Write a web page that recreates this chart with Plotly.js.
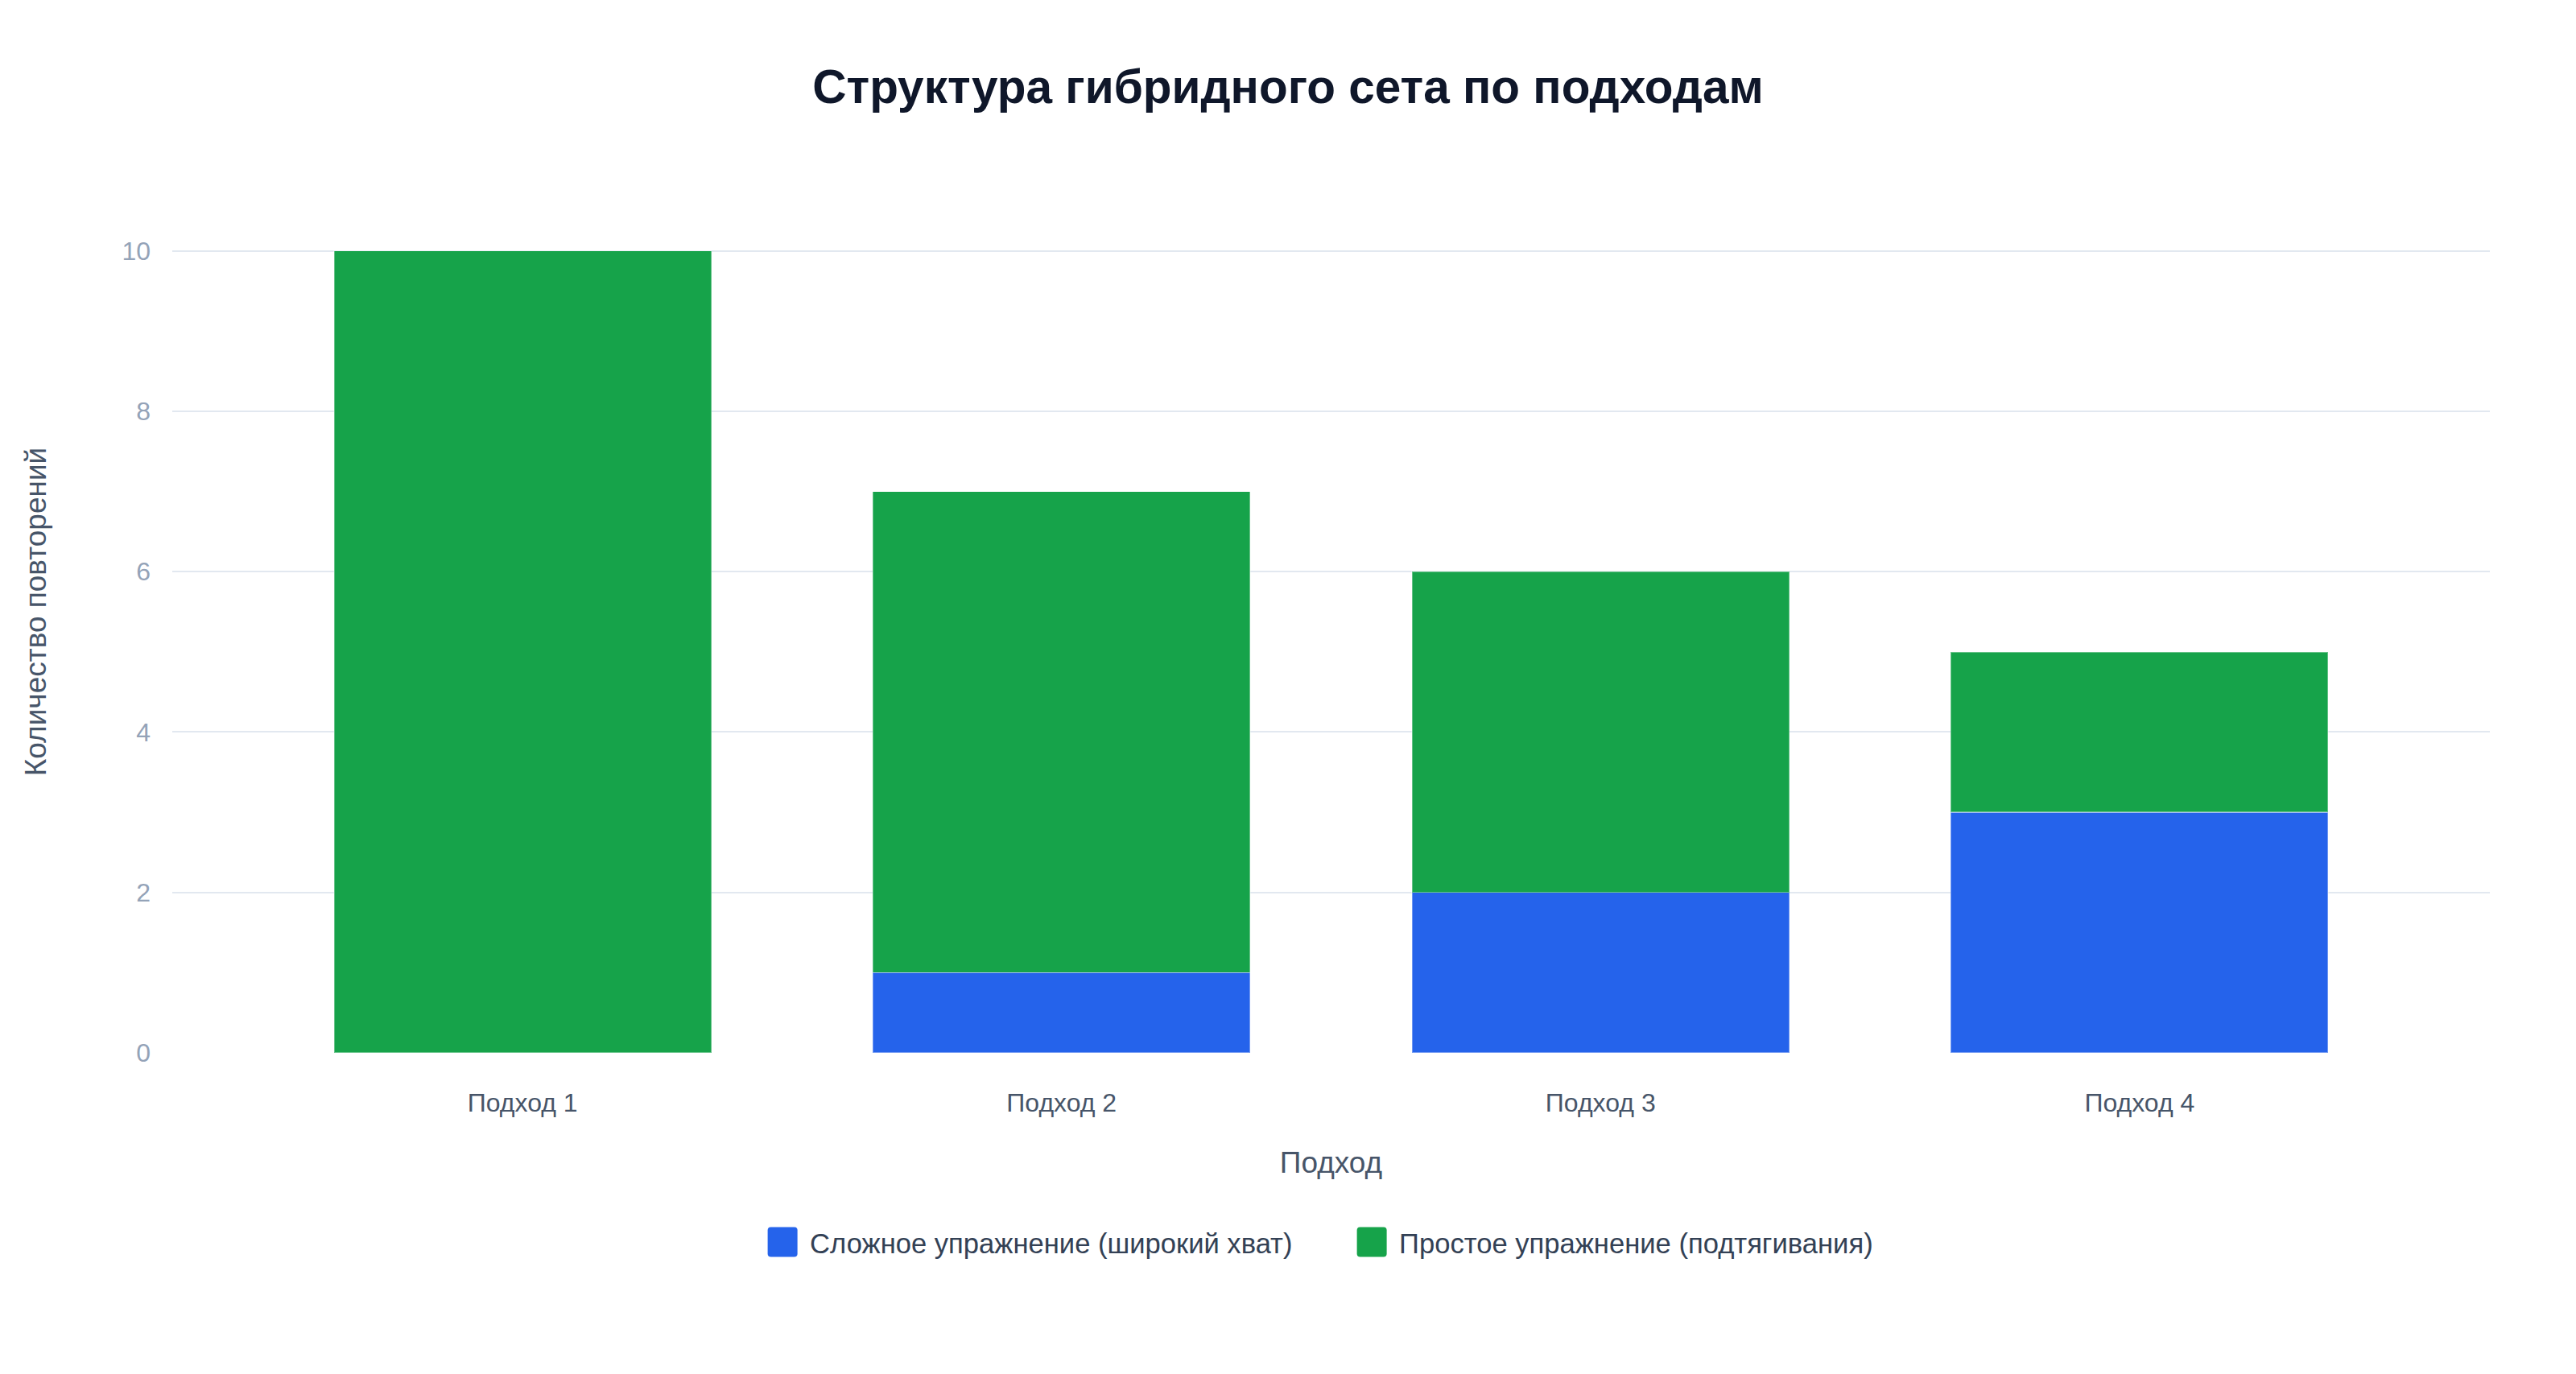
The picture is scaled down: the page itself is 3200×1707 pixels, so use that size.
<!DOCTYPE html>
<html>
<head>
<meta charset="utf-8">
<script src="https://cdn.plot.ly/plotly-3.0.1.min.js"></script>
<style>
  html, body { margin: 0; padding: 0; background: #ffffff; }
  #chart { width: 3200px; height: 1707px; }
</style>
</head>
<body>
<div id="chart"></div>
<script>
var sets = ['Подход 1', 'Подход 2', 'Подход 3', 'Подход 4'];
var hardReps = [0, 1, 2, 3];
var easyReps = [10, 6, 4, 2];
var yTicks = [0, 2, 4, 6, 8, 10];

var fontFamily = '"Liberation Sans", Arial, sans-serif';
var blue = '#2563eb';
var green = '#16a34a';

var trace1 = {
    x: sets,
    y: hardReps,
    name: 'Сложное упражнение (широкий хват)',
    type: 'bar',
    marker: {
        color: blue,
        line: { color: 'rgba(255,255,255,0.35)', width: 1.5 }
    }
};

var trace2 = {
    x: sets,
    y: easyReps,
    name: 'Простое упражнение (подтягивания)',
    type: 'bar',
    marker: {
        color: green,
        line: { color: 'rgba(255,255,255,0.35)', width: 1.5 }
    }
};

var data = [trace1, trace2];

var layout = {
    barmode: 'stack',
    bargap: 0.3,
    width: 3200,
    height: 1707,
    paper_bgcolor: '#ffffff',
    plot_bgcolor: '#ffffff',
    font: { family: fontFamily, color: '#334155', size: 32 },
    title: {
        text: '<b>Структура гибридного сета по подходам</b>',
        font: { family: fontFamily, size: 58.5, color: '#0f172a' },
        x: 0.5,
        xanchor: 'center',
        y: 0.937,
        yanchor: 'middle'
    },
    xaxis: {
        title: {
            text: 'Подход',
            font: { size: 37, color: '#475569' },
            standoff: 44
        },
        range: [-0.65, 3.65],
        tickfont: { size: 32, color: '#475569' },
        ticklabelstandoff: 40,
        showgrid: false,
        zeroline: false,
        showline: false,
        ticks: ''
    },
    yaxis: {
        title: {
            text: 'Количество повторений',
            font: { size: 37, color: '#475569' },
            standoff: 82
        },
        range: [0, 11],
        tickvals: yTicks,
        tickfont: { size: 32, color: '#94a3b8' },
        ticklabelstandoff: 26,
        gridcolor: '#e2e8f0',
        gridwidth: 2,
        zeroline: false,
        showline: false,
        ticks: ''
    },
    legend: {
        orientation: 'h',
        traceorder: 'normal',
        x: 0.5155,
        xanchor: 'center',
        y: -0.188,
        yanchor: 'top',
        font: { size: 34.6, color: '#334155' },
        entrywidth: 687,
        entrywidthmode: 'pixels'
    },
    margin: {
        l: 214,
        r: 107,
        t: 212,
        b: 399
    }
};

Plotly.newPlot('chart', data, layout, {
    displayModeBar: false
}).then(function(gd) {
    // bigger rounded legend swatches
    var swatch = 'M-8.5,-18.5H20.5A4,4 0 0 1 24.5,-14.5V14.5A4,4 0 0 1 20.5,18.5' +
        'H-8.5A4,4 0 0 1 -12.5,14.5V-14.5A4,4 0 0 1 -8.5,-18.5Z';
    var colors = [blue, green];
    // let the first swatch reach past the legend's left clip edge
    gd.querySelectorAll('.legend [clip-path]').forEach(function(el) {
        el.removeAttribute('clip-path');
    });
    var items = gd.querySelectorAll('.legend .traces');
    items.forEach(function(item, i) {
        item.querySelectorAll('.legendpoints path').forEach(function(p) {
            p.setAttribute('d', swatch);
            p.removeAttribute('transform');
            p.style.fill = colors[i];
            p.style.fillOpacity = 1;
            p.style.stroke = 'none';
        });
    });
});
</script>
</body>
</html>
